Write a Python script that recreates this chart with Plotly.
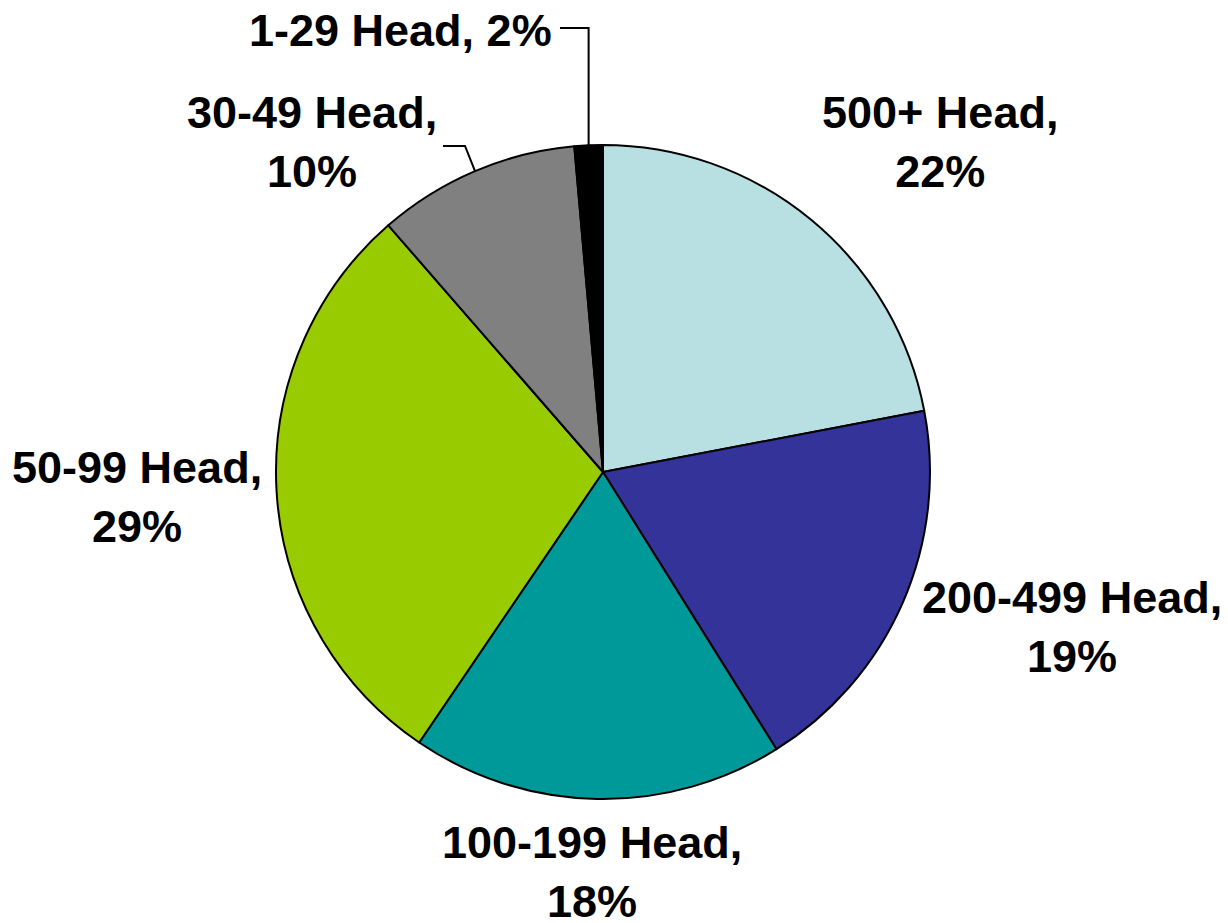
import math
import plotly.graph_objects as go

# ---- data ----
categories = ["500+ Head", "200-499 Head", "100-199 Head", "50-99 Head", "30-49 Head", "1-29 Head"]
shares = [22.0, 19.1, 18.4, 29.1, 10.0, 1.4]
pct_labels = ["22%", "19%", "18%", "29%", "10%", "2%"]

# ---- styling / layout ----
colors = ["#B8E0E3", "#333399", "#009999", "#99CC00", "#808080", "#000000"]
W, H = 1228, 923
OFF = 8  # page body margin offset
CX, CY, R = 603, 472, 327  # pie centre / radius in page pixels
FONT = dict(family="Liberation Sans, Arial, sans-serif", size=45, color="#000000")

label_text = [
    f"{categories[0]},<br>{pct_labels[0]}",
    f"{categories[1]},<br>{pct_labels[1]}",
    f"{categories[2]},<br>{pct_labels[2]}",
    f"{categories[3]},<br>{pct_labels[3]}",
    f"{categories[4]},<br>{pct_labels[4]}",
    f"{categories[5]}, {pct_labels[5]}",
]
label_pos = [(940, 142), (1072, 627), (592, 872), (137, 497), (312, 142), (401, 30)]


def px(x):
    return (x - OFF) / W


def py(y):
    return 1 - (y - OFF) / H


fig = go.Figure(
    go.Pie(
        labels=categories,
        values=shares,
        sort=False,
        direction="clockwise",
        rotation=0,
        marker=dict(colors=colors, line=dict(color="#000000", width=2)),
        textinfo="none",
        hoverinfo="label+percent",
        showlegend=False,
        domain=dict(x=[px(CX - R), px(CX + R)], y=[py(CY + R), py(CY - R)]),
    )
)

for txt, (lx, ly) in zip(label_text, label_pos):
    fig.add_annotation(
        x=px(lx), y=py(ly), xref="paper", yref="paper",
        text=f"<b>{txt}</b>", showarrow=False, font=FONT,
        xanchor="center", yanchor="middle", align="center",
    )

total = sum(shares)
cum = 0
mids = []
for v in shares:
    mids.append((cum + v / 2) / total * 2 * math.pi)
    cum += v


def edge_point(angle):
    return CX + R * math.sin(angle), CY - R * math.cos(angle)


# 30-49 Head leader
ex, ey = edge_point(mids[4])
pts = [(443, 146), (465, 146), (ex, ey)]
path = "M " + " L ".join(f"{px(a)},{py(b)}" for a, b in pts)
fig.add_shape(type="path", path=path, xref="paper", yref="paper",
              line=dict(color="#000000", width=2))
# 1-29 Head leader
ex, ey = edge_point(mids[5])
pts = [(560, 28), (ex, 28), (ex, ey)]
path = "M " + " L ".join(f"{px(a)},{py(b)}" for a, b in pts)
fig.add_shape(type="path", path=path, xref="paper", yref="paper",
              line=dict(color="#000000", width=2))

fig.update_layout(
    width=W, height=H,
    margin=dict(l=0, r=0, t=0, b=0),
    paper_bgcolor="#FFFFFF",
    plot_bgcolor="#FFFFFF",
)

fig.write_html("out.html")
